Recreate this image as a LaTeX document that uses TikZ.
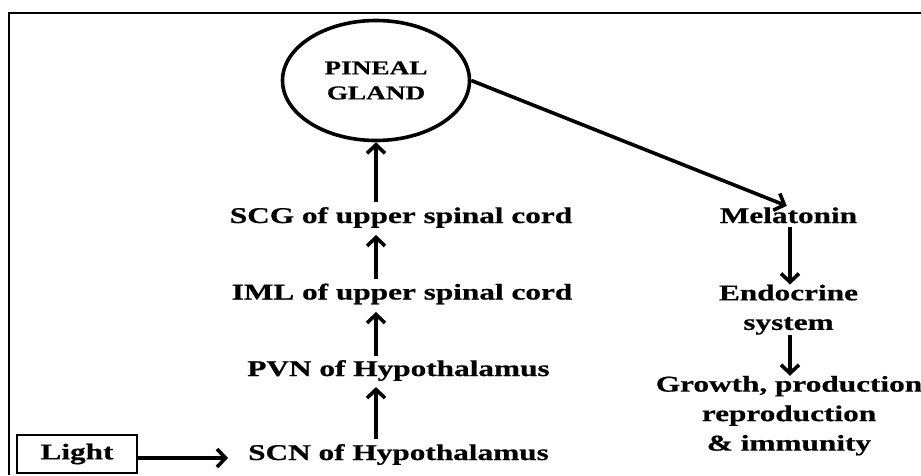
\documentclass[tikz,border=0pt]{standalone}
\usepackage{fontspec}
\newfontfamily\dfont[FakeStretch=1.39, BoldFeatures={FakeBold=0.6}]{Liberation Serif}
\usetikzlibrary{shapes.geometric,arrows.meta}
\begin{document}
\begin{tikzpicture}[x=1pt,y=-1pt,
  txt/.style={font=\dfont\bfseries\fontsize{22.5}{29.5}\selectfont, inner sep=0pt},
  arr/.style={line width=3.6pt, -{Straight Barb[length=8.5pt,width=18pt]}},
  frame/.style={line width=2.5pt}
]
\useasboundingbox (0,0) rectangle (921,475);
\fill[white] (0,0) rectangle (921,475);
\draw[frame] (9,475) -- (9,13) -- (921,13);

\node[draw, ellipse, line width=3.6pt, minimum width=187pt, minimum height=120pt,
      inner sep=0pt, align=center,
      font=\dfont\bfseries\fontsize{19.6}{25}\selectfont] (pineal) at (376,80.5) {PINEAL\\GLAND};

\node[txt, anchor=base] (scg) at (401,223) {SCG of upper spinal cord};
\node[txt, anchor=base] (iml) at (402,299.5) {IML of upper spinal cord};
\node[txt, anchor=base] (pvn) at (398.5,376) {PVN of Hypothalamus};
\node[txt, anchor=base] (scn) at (398.5,460) {SCN of Hypothalamus};

\node[txt, draw, line width=1.8pt, minimum width=120pt, minimum height=38pt] (light) at (77,454) {Light};

\node[txt, anchor=base] (mel) at (788.5,223) {Melatonin};
\node[txt, align=center] (endo) at (788.5,309.7) {Endocrine\\system};
\node[txt, align=center] (grow) at (789,415.7) {Growth, production\\reproduction\\\& immunity};

\draw[arr, shorten <=4.5pt] (scg.north -| pineal.south) -- (pineal.south);
\draw[arr, shorten <=4pt, shorten >=7pt] (iml.north -| pineal.south) -- (scg.south -| pineal.south);
\draw[arr, shorten <=3.5pt, shorten >=7.5pt] (pvn.north -| pineal.south) -- (iml.south -| pineal.south);
\draw[arr, shorten <=4.5pt, shorten >=6pt] (scn.north -| pineal.south) -- (pvn.south -| pineal.south);

\draw[arr, shorten >=20pt] ([yshift=-4pt]light.east) -- ([yshift=-4pt]light.east -| scn.west);

\draw[arr, shorten >=3.5pt] (pineal.east) -- ([xshift=1.5pt]mel.north);
\draw[arr, shorten <=4pt] ([xshift=1.5pt]mel.south) -- ([xshift=1.5pt]mel.south |- endo.north);
\draw[arr] ([xshift=1.5pt]mel.south |- endo.south) -- ([xshift=1.5pt]mel.south |- grow.north);
\end{tikzpicture}
\end{document}
